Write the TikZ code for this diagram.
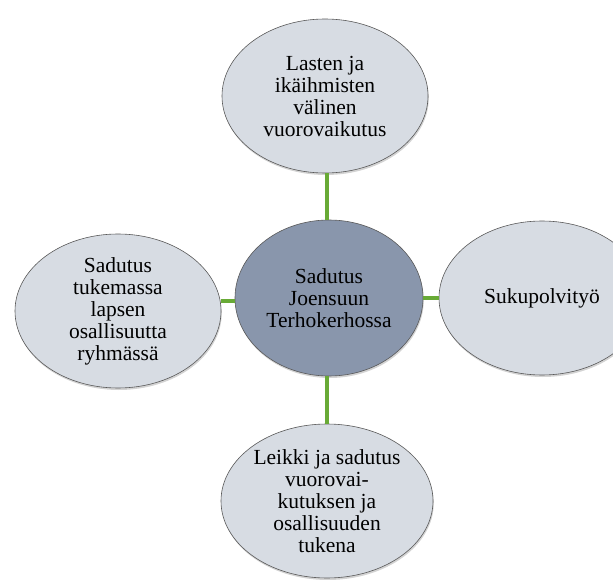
\documentclass[tikz,border=0pt]{standalone}
\usepackage{fontspec}
\setmainfont{Liberation Serif}
\usetikzlibrary{shapes.geometric, shadows}

\definecolor{leafgrey}{RGB}{215,220,227}
\definecolor{hubblue}{RGB}{137,150,172}
\definecolor{linkgreen}{RGB}{104,170,54}

\begin{document}
\begin{tikzpicture}[x=1pt,y=-1pt,
  bubble/.style={ellipse, draw=black!65, line width=0.6pt, fill=leafgrey,
    minimum width=206pt, minimum height=154pt, inner sep=0pt, align=center,
    font=\fontsize{21.5}{22}\selectfont,
    drop shadow={shadow xshift=0.8pt, shadow yshift=-2pt, opacity=0.35}},
  hub/.style={bubble, fill=hubblue, minimum width=188pt, minimum height=156pt},
  link/.style={draw=linkgreen, line width=4pt}]

\useasboundingbox (0,0) rectangle (613,580);

\node[hub] (mid) at (329,298) {Sadutus\\Joensuun\\Terhokerhossa};
\node[bubble] (top) at (325,96) {Lasten ja\\ikäihmisten\\välinen\\vuorovaikutus};
\node[bubble] (left) at (118,311) {Sadutus\\tukemassa\\lapsen\\osallisuutta\\ryhmässä};
\node[bubble] (right) at (542,298) {Sukupolvityö};
\node[bubble, minimum width=212pt] (bottom) at (327,501) {Leikki ja sadutus\\vuorovai-\\kutuksen ja\\osallisuuden\\tukena};

\draw[link] ([xshift=-2pt]mid.north) -- ([xshift=-2pt]mid.north |- top.south);
\draw[link] ([xshift=-2pt]mid.south) -- ([xshift=-2pt]mid.south |- bottom.north);
\draw[link] ([yshift=-3pt]mid.west) -- ([yshift=-3pt]mid.west -| left.east);
\draw[link] (mid.east) -- (mid.east -| right.west);

\end{tikzpicture}
\end{document}
